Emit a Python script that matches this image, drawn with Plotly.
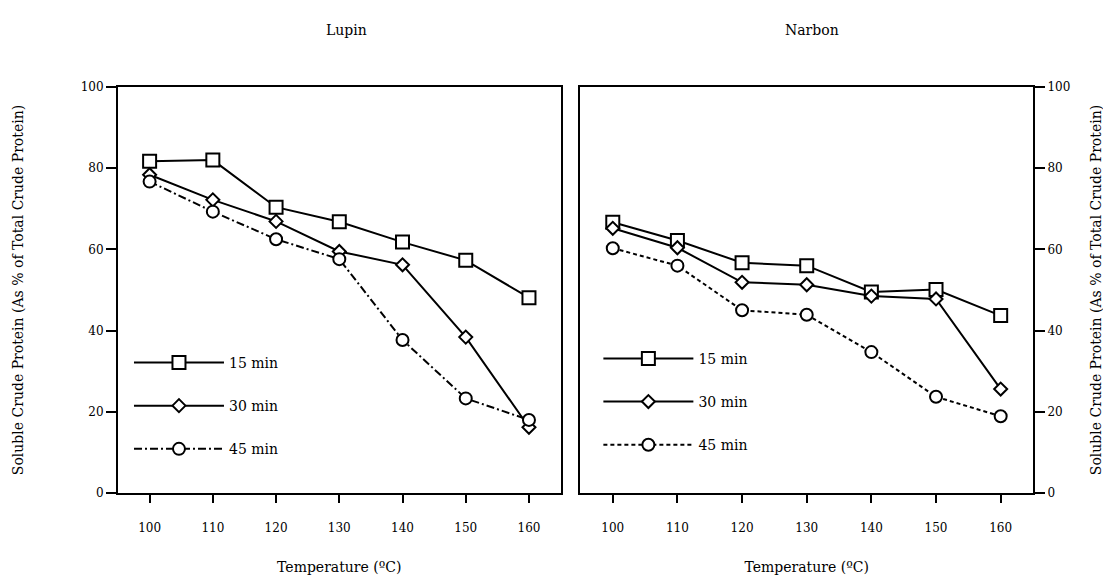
import plotly.graph_objects as go

temperature = [100, 110, 120, 130, 140, 150, 160]
lupin_15 = [81.7, 82.0, 70.4, 66.8, 61.8, 57.3, 48.1]
lupin_30 = [78.4, 72.2, 66.9, 59.5, 56.2, 38.4, 16.2]
lupin_45 = [76.7, 69.3, 62.5, 57.6, 37.7, 23.3, 18.0]
narbon_15 = [66.7, 62.2, 56.7, 56.0, 49.5, 50.1, 43.7]
narbon_30 = [65.2, 60.4, 51.9, 51.3, 48.5, 47.8, 25.6]
narbon_45 = [60.3, 56.0, 45.0, 43.9, 34.7, 23.7, 18.9]
series_names = ["15 min", "30 min", "45 min"]
panel_titles = ["Lupin", "Narbon"]
x_ticks = [100, 110, 120, 130, 140, 150, 160]
y_ticks = [0, 20, 40, 60, 80, 100]
x_title = "Temperature (ºC)"
y_title = "Soluble Crude Protein (As % of Total Crude Protein)"

FONT = "DejaVu Serif"
symbols = ["square", "diamond", "circle"]
sizes = [13, 10, 12]
dashes_panel = [["solid", "solid", "8px,3px,2px,3px"], ["solid", "solid", "4px,3px"]]
panels = [[lupin_15, lupin_30, lupin_45], [narbon_15, narbon_30, narbon_45]]

fig = go.Figure()
for p, series in enumerate(panels):
    xa = "x" if p == 0 else "x2"
    ya = "y" if p == 0 else "y2"
    lg = "legend" if p == 0 else "legend2"
    for i, vals in enumerate(series):
        fig.add_trace(go.Scatter(
            x=temperature, y=vals, name=series_names[i], xaxis=xa, yaxis=ya,
            mode="lines+markers", legend=lg, legendgroup=f"{p}-{i}",
            line=dict(color="black", width=2, dash=dashes_panel[p][i]),
            marker=dict(symbol=symbols[i], size=sizes[i], color="white",
                        line=dict(color="black", width=2)),
        ))

axis_common = dict(showline=True, linewidth=2, linecolor="black", mirror=True,
                   ticks="outside", tickwidth=2, tickcolor="black", showgrid=False,
                   zeroline=False, automargin=False,
                   tickfont=dict(family=FONT, size=12, color="black"))
x_common = dict(axis_common, range=[95, 165], tickvals=x_ticks, ticklen=8, ticklabelstandoff=15,
                title=dict(text=x_title, font=dict(family=FONT, size=14, color="black"), standoff=28))
y_common = dict(axis_common, range=[0, 100], tickvals=y_ticks, ticklen=10)

fig.update_layout(
    width=1111, height=576,
    margin=dict(l=110, r=86, t=79, b=91),
    paper_bgcolor="white", plot_bgcolor="white",
    font=dict(family=FONT, color="black"),
    xaxis=dict(x_common, domain=[0, 0.4837], anchor="y"),
    xaxis2=dict(x_common, domain=[0.5054, 1], anchor="y2"),
    yaxis=dict(y_common, anchor="x", side="left",
               title=dict(text=y_title, font=dict(family=FONT, size=14, color="black"), standoff=54)),
    yaxis2=dict(y_common, anchor="x2", side="right",
                title=dict(text=y_title, font=dict(family=FONT, size=14, color="black"), standoff=22)),
    legend=dict(x=0.012, y=0.36, xanchor="left", yanchor="top", bgcolor="rgba(0,0,0,0)",
                font=dict(family=FONT, size=14, color="black"), tracegroupgap=22, itemwidth=90),
    legend2=dict(x=0.525, y=0.37, xanchor="left", yanchor="top", bgcolor="rgba(0,0,0,0)",
                 font=dict(family=FONT, size=14, color="black"), tracegroupgap=22, itemwidth=90),
    showlegend=True,
)

fig.add_annotation(text=panel_titles[0], xref="paper", yref="paper", x=0.225, y=1.14,
                   yanchor="middle", showarrow=False, font=dict(family=FONT, size=14, color="black"))
fig.add_annotation(text=panel_titles[1], xref="paper", yref="paper", x=0.79, y=1.14,
                   yanchor="middle", showarrow=False, font=dict(family=FONT, size=14, color="black"))

fig.write_html("out.html")
